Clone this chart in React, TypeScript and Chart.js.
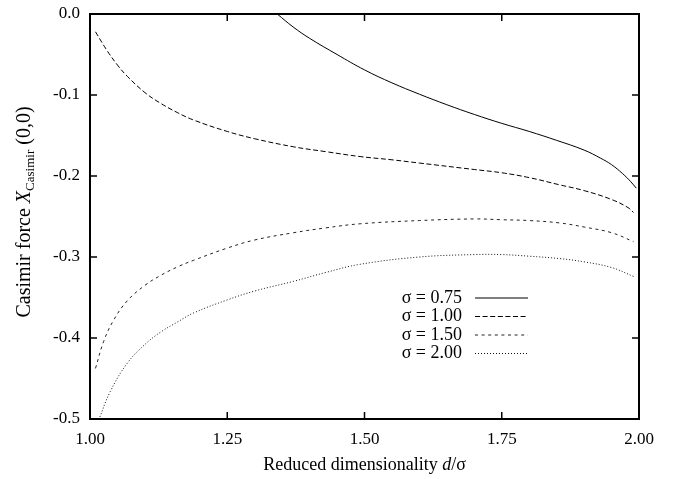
import React, { useEffect, useRef } from "react";
import { Chart, registerables } from "chart.js";
Chart.register(...registerables);

const xTickValues = [1.0, 1.25, 1.5, 1.75, 2.0];
const xTickLabels = ["1.00", "1.25", "1.50", "1.75", "2.00"];
const yTickValues = [0, -0.1, -0.2, -0.3, -0.4, -0.5];
const yTickLabels = ["0.0", "-0.1", "-0.2", "-0.3", "-0.4", "-0.5"];

const seriesLabels = ["σ = 0.75", "σ = 1.00", "σ = 1.50", "σ = 2.00"];

const d075 = [1.341, 1.37, 1.4, 1.45, 1.5, 1.55, 1.6, 1.65, 1.7, 1.75, 1.8, 1.85, 1.9, 1.93, 1.95, 1.97, 1.985, 1.995];
const v075 = [0, -0.016, -0.03, -0.05, -0.069, -0.085, -0.099, -0.112, -0.124, -0.135, -0.145, -0.156, -0.168, -0.178, -0.186, -0.197, -0.207, -0.215];

const d100 = [1.01, 1.03, 1.05, 1.068, 1.1, 1.128, 1.16, 1.189, 1.25, 1.3, 1.371, 1.43, 1.492, 1.55, 1.6, 1.7, 1.75, 1.8, 1.856, 1.9, 1.95, 1.98, 1.99];
const v100 = [-0.022, -0.044, -0.063, -0.077, -0.097, -0.11, -0.122, -0.131, -0.145, -0.154, -0.164, -0.17, -0.176, -0.18, -0.184, -0.192, -0.196, -0.202, -0.211, -0.218, -0.229, -0.239, -0.245];

const d150 = [1.01, 1.025, 1.043, 1.068, 1.1, 1.128, 1.16, 1.189, 1.25, 1.3, 1.371, 1.43, 1.492, 1.6, 1.7, 1.75, 1.8, 1.856, 1.9, 1.95, 1.99];
const v150 = [-0.4375, -0.404, -0.378, -0.354, -0.335, -0.323, -0.312, -0.304, -0.289, -0.279, -0.27, -0.264, -0.259, -0.255, -0.253, -0.254, -0.255, -0.258, -0.263, -0.27, -0.281];

const d200 = [1.016, 1.037, 1.068, 1.1, 1.128, 1.16, 1.189, 1.25, 1.3, 1.371, 1.43, 1.492, 1.6, 1.7, 1.75, 1.8, 1.856, 1.9, 1.95, 1.99];
const v200 = [-0.501, -0.466, -0.431, -0.408, -0.393, -0.38, -0.369, -0.353, -0.342, -0.33, -0.319, -0.309, -0.3, -0.297, -0.297, -0.299, -0.302, -0.306, -0.313, -0.324];

const dashes: number[][] = [[], [5, 2.6], [3, 3.6], [1, 2]];
const colors = ["#000", "#000", "#222", "#111"];

const FONT = "'Liberation Serif', 'Times New Roman', serif";

const toPts = (xs: number[], ys: number[]) => xs.map((x, i) => ({ x, y: ys[i] }));

const decorPlugin = {
  id: "decor",
  afterDraw(chart: any) {
    const { ctx, chartArea: a, scales } = chart;
    const xs = scales.x;
    const ys = scales.y;
    ctx.save();
    ctx.strokeStyle = "#000";
    ctx.lineWidth = 2;
    ctx.setLineDash([]);
    ctx.strokeRect(a.left, a.top, a.right - a.left, a.bottom - a.top);
    const tl = 7;
    ctx.lineWidth = 1.5;
    ctx.beginPath();
    xTickValues.forEach((v) => {
      const px = xs.getPixelForValue(v);
      ctx.moveTo(px, a.bottom);
      ctx.lineTo(px, a.bottom - tl);
      ctx.moveTo(px, a.top);
      ctx.lineTo(px, a.top + tl);
    });
    yTickValues.forEach((v) => {
      const py = ys.getPixelForValue(v);
      ctx.moveTo(a.left, py);
      ctx.lineTo(a.left + tl, py);
      ctx.moveTo(a.right, py);
      ctx.lineTo(a.right - tl, py);
    });
    ctx.stroke();

    // legend
    ctx.fillStyle = "#000";
    ctx.font = `18px ${FONT}`;
    ctx.textAlign = "right";
    ctx.textBaseline = "middle";
    const rows = [298, 316.5, 335, 353.5];
    seriesLabels.forEach((lab, i) => {
      ctx.fillText(lab, 462, rows[i]);
      ctx.beginPath();
      ctx.lineWidth = 1;
      ctx.strokeStyle = colors[i];
      ctx.setLineDash(dashes[i]);
      ctx.moveTo(475, rows[i]);
      ctx.lineTo(528, rows[i]);
      ctx.stroke();
    });
    ctx.setLineDash([]);

    // x title
    ctx.textAlign = "left";
    ctx.textBaseline = "alphabetic";
    const fN = `18px ${FONT}`;
    const fI = `italic 18px ${FONT}`;
    const xParts = [
      { t: "Reduced dimensionality ", f: fN },
      { t: "d", f: fI },
      { t: "/σ", f: fN },
    ];
    let total = 0;
    xParts.forEach((p) => {
      ctx.font = p.f;
      total += ctx.measureText(p.t).width;
    });
    let cx = (a.left + a.right) / 2 - total / 2;
    xParts.forEach((p) => {
      ctx.font = p.f;
      ctx.fillText(p.t, cx, 470);
      cx += ctx.measureText(p.t).width;
    });

    // y title (rotated)
    const yN = `20px ${FONT}`;
    const yI = `italic 20px ${FONT}`;
    const yParts = [
      { t: "Casimir force ", f: yN, dy: 0 },
      { t: "X", f: yI, dy: 0 },
      { t: "Casimir", f: `13px ${FONT}`, dy: 4 },
      { t: " (0,0)", f: yN, dy: 0 },
    ];
    total = 0;
    yParts.forEach((p) => {
      ctx.font = p.f;
      total += ctx.measureText(p.t).width;
    });
    ctx.translate(30, 212);
    ctx.rotate(-Math.PI / 2);
    let lx = -total / 2;
    yParts.forEach((p) => {
      ctx.font = p.f;
      ctx.fillText(p.t, lx, p.dy);
      lx += ctx.measureText(p.t).width;
    });
    ctx.restore();
  },
};

export default function App() {
  const ref = useRef<HTMLCanvasElement | null>(null);
  useEffect(() => {
    if (!ref.current) return;
    const series = [toPts(d075, v075), toPts(d100, v100), toPts(d150, v150), toPts(d200, v200)];
    const chart = new Chart(ref.current, {
      type: "line",
      data: {
        datasets: series.map((pts, i) => ({
          label: seriesLabels[i],
          data: pts,
          borderColor: colors[i],
          borderWidth: 1,
          borderDash: dashes[i],
          pointRadius: 0,
          fill: false,
          tension: 0.4,
        })),
      },
      options: {
        responsive: false,
        animation: false,
        events: [],
        layout: { padding: { left: 0, top: 14, right: 37, bottom: 0 } },
        plugins: { legend: { display: false }, tooltip: { enabled: false }, title: { display: false } },
        scales: {
          x: {
            type: "linear",
            min: 1,
            max: 2,
            afterBuildTicks: (s: any) => {
              s.ticks = xTickValues.map((v) => ({ value: v }));
            },
            afterFit: (s: any) => {
              s.height = 60;
              s.paddingLeft = 0;
              s.paddingRight = 0;
            },
            grid: { display: false, drawTicks: false },
            border: { display: false },
            ticks: {
              autoSkip: false,
              maxRotation: 0,
              padding: 10,
              color: "#000",
              font: { family: FONT, size: 17 },
              callback: (v: any) => xTickLabels[xTickValues.indexOf(Number(v))] ?? "",
            },
          },
          y: {
            type: "linear",
            min: -0.5,
            max: 0,
            afterBuildTicks: (s: any) => {
              s.ticks = yTickValues.map((v) => ({ value: v }));
            },
            afterFit: (s: any) => {
              s.width = 90;
              s.paddingTop = 0;
              s.paddingBottom = 0;
            },
            grid: { display: false, drawTicks: false },
            border: { display: false },
            ticks: {
              autoSkip: false,
              padding: 10,
              color: "#000",
              font: { family: FONT, size: 17 },
              callback: (v: any) => yTickLabels[yTickValues.indexOf(Number(v))] ?? "",
            },
          },
        },
      },
      plugins: [decorPlugin],
    });
    return () => chart.destroy();
  }, []);
  return (
    <div style={{ position: "absolute", left: 0, top: 0, width: 676, height: 479, background: "#fff" }}>
      <canvas ref={ref} width={676} height={479} style={{ width: 676, height: 479, display: "block" }} />
    </div>
  );
}
